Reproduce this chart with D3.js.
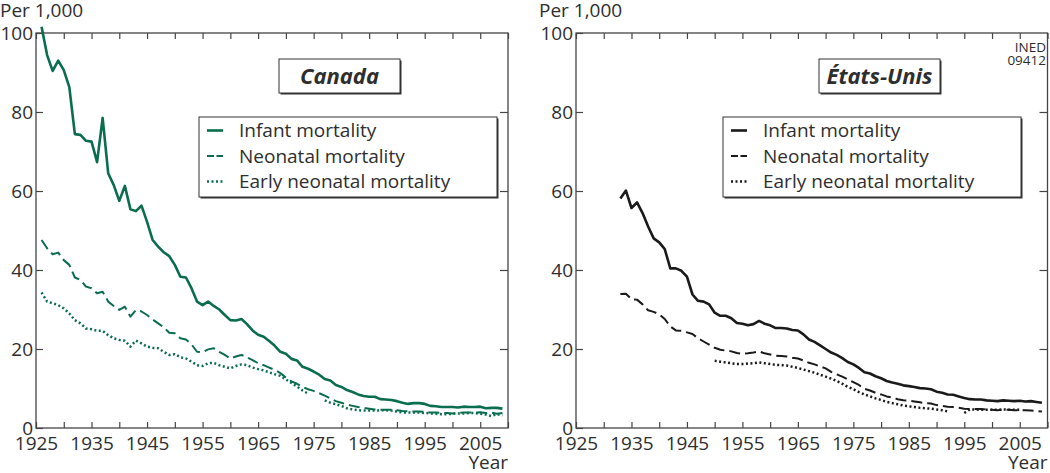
<!DOCTYPE html>
<html><head><meta charset="utf-8">
<script src="https://cdn.jsdelivr.net/npm/d3@7"></script>
<style>
body{margin:0;background:#fff;}
svg text{font-family:"Open Sans","Noto Sans",sans-serif;fill:#2e2e2e;}
</style></head><body>
<svg id="chart" width="1050" height="473"></svg>
<script>
// ---------- DATA ----------
const canadaFirstYear = 1926;
const canadaInfant = [101.6,94.4,90.4,93.0,90.6,86.3,74.4,74.2,72.7,72.5,
  67.3,78.5,64.5,61.5,57.5,61.3,55.4,54.9,56.3,52.2,
  47.6,45.9,44.5,43.5,41.3,38.3,38.1,35.4,32.0,31.1,
  32.0,30.9,30.0,28.6,27.3,27.2,27.6,26.3,24.7,23.6,
  23.1,22.0,20.8,19.3,18.8,17.5,17.1,15.5,15.0,14.3,
  13.5,12.4,12.0,10.9,10.4,9.6,9.1,8.5,8.1,7.9,
  7.9,7.3,7.2,7.1,6.8,6.4,6.1,6.3,6.3,6.1,
  5.6,5.5,5.3,5.3,5.3,5.2,5.4,5.3,5.3,5.4,
  5.0,5.1,5.1,4.9];
const canadaNeonatal = [47.6,45.5,44.0,44.4,42.5,41.3,38.1,37.5,35.8,35.4,
  34.1,34.5,32.0,30.9,29.9,30.7,28.2,29.9,29.5,28.6,
  27.5,26.5,25.5,24.1,24.0,22.7,22.4,21.2,19.3,19.2,
  19.9,20.2,19.3,18.5,17.6,18.1,18.5,17.9,17.2,16.4,
  15.9,15.3,14.7,13.9,12.8,11.8,11.2,10.4,9.8,9.4,
  8.8,8.2,7.5,6.8,6.4,5.9,5.6,5.3,5.1,4.9,
  4.7,4.6,4.6,4.6,4.5,4.3,4.2,4.2,4.2,4.1,
  3.9,3.9,3.8,3.8,3.7,3.8,3.9,3.9,3.9,4.0,
  3.8,3.9,3.6,3.8];
const canadaEarlyNeonatal = [34.3,32.0,31.6,31.1,30.3,29.0,27.3,26.5,25.2,25.0,
  24.6,24.6,23.5,22.7,22.3,22.1,20.6,22.1,21.4,20.6,
  20.3,20.2,19.3,18.5,18.7,17.9,17.6,16.8,15.9,15.7,
  16.4,16.5,15.9,15.5,15.1,15.7,16.1,15.9,15.3,14.9,
  14.6,14.1,13.6,13.2,12.3,11.4,10.5,9.5,8.7,null,
  null,7.0,6.4,6.0,5.6,5.0,4.7,4.5,4.4,4.4,
  4.4,4.5,4.5,4.4,4.2,3.9,3.9,3.9,3.9,3.8,
  3.7,3.6,3.5,3.5,3.6,3.7,3.7,3.8,3.8,3.6,
  3.4,3.0,3.5,3.2];

const usFirstYear = 1933;
const usInfant = [58.1,60.1,55.7,57.1,54.4,51.0,48.0,47.0,45.3,40.4,
  40.4,39.8,38.3,33.8,32.2,32.0,31.3,29.2,28.4,28.4,
  27.8,26.6,26.4,26.0,26.3,27.1,26.4,26.0,25.3,25.3,
  25.2,24.8,24.7,23.7,22.4,21.8,20.9,20.0,19.1,18.5,
  17.7,16.7,16.1,15.2,14.1,13.8,13.1,12.6,11.9,11.5,
  11.2,10.8,10.6,10.4,10.1,10.0,9.8,9.2,8.9,8.5,
  8.4,8.0,7.6,7.3,7.2,7.2,7.0,6.9,6.8,7.0,
  6.9,6.8,6.9,6.7,6.8,6.6,6.4];
const usNeonatal = [33.9,34.0,32.6,32.5,31.3,29.8,29.4,28.8,27.6,25.7,
  24.7,24.6,24.2,23.8,22.7,21.9,21.1,20.3,19.8,19.6,
  19.4,19.0,18.8,18.9,19.1,19.4,18.9,18.6,18.3,18.2,
  18.1,17.8,17.6,17.1,16.5,16.1,15.6,15.1,14.2,13.6,
  13.0,12.3,11.6,10.9,9.9,9.5,8.9,8.5,8.0,7.7,
  7.3,7.0,6.9,6.7,6.5,6.3,6.2,5.8,5.6,5.4,
  5.3,5.1,4.9,4.8,4.8,4.8,4.7,4.6,4.5,4.7,
  4.6,4.5,4.5,4.5,4.4,4.3,4.2];
const usEarlyNeonatal = [null,null,null,null,null,null,null,null,null,null,
  null,null,null,null,null,null,null,17.0,16.8,16.6,
  16.4,16.2,16.2,16.3,16.4,16.6,16.4,16.2,16.0,15.9,
  15.8,15.5,15.2,14.8,14.4,14.0,13.5,13.0,12.5,11.9,
  11.2,10.4,9.8,9.1,8.5,8.0,7.5,7.1,6.6,6.3,
  6.0,5.7,5.5,5.3,5.1,5.0,4.9,4.7,4.5,4.2,
  null,null,3.8,4.7,4.7,4.6,4.6,4.6,4.6,4.7,
  4.6,4.6,4.6,null,null,null,null];

const seriesNames = ["Infant mortality","Neonatal mortality","Early neonatal mortality"];
const panelTitles = ["Canada","États-Unis"];
const xTickYears = [1925,1930,1935,1940,1945,1950,1955,1960,1965,1970,1975,1980,1985,1990,1995,2000,2005,2010];
const xLabelYears = [1925,1935,1945,1955,1965,1975,1985,1995,2005];
const yTicks = [0,20,40,60,80,100];
const yAxisTitle = "Per 1,000";
const xAxisTitle = "Year";
const sourceNote = ["INED","09412"];

// ---------- LAYOUT / STYLE ----------
const svg = d3.select("#chart");
const frameColor = "#454545";
const fontSize = 19;
const styles = [
  {width:2.6, dash:null},
  {width:2.0, dash:"11,5"},
  {width:2.5, dash:"2,2.5"}
];
const panels = [
  {x0:36, x1:508, color:"#0a6e4e", first:canadaFirstYear,
   series:[canadaInfant,canadaNeonatal,canadaEarlyNeonatal],
   title:panelTitles[0], titleBox:[279,59,121,34], legendBox:[199,117,298,80], perX:0},
  {x0:576, x1:1047.5, color:"#1a1a1a", first:usFirstYear,
   series:[usInfant,usNeonatal,usEarlyNeonatal],
   title:panelTitles[1], titleBox:[819,59,121,34], legendBox:[723,117,298,80], perX:539}
];
const yTop = 33, yBottom = 428;

panels.forEach(p => {
  const x = d3.scaleLinear().domain([1925,2010]).range([p.x0,p.x1]);
  const y = d3.scaleLinear().domain([0,100]).range([yBottom,yTop]);
  const g = svg.append("g");

  const ax = g.append("g").attr("transform",`translate(0,${yBottom})`)
    .call(d3.axisBottom(x).tickValues(xTickYears).tickSize(-6).tickSizeOuter(0).tickPadding(9)
      .tickFormat(d => xLabelYears.includes(d) ? String(d) : ""));
  const at = g.append("g").attr("transform",`translate(0,${yTop})`)
    .call(d3.axisTop(x).tickValues(xTickYears).tickSize(-6).tickSizeOuter(0).tickFormat(""));
  const al = g.append("g").attr("transform",`translate(${p.x0},0)`)
    .call(d3.axisLeft(y).tickValues(yTicks).tickSize(-7).tickSizeOuter(0).tickPadding(3).tickFormat(d3.format("d")));
  const ar = g.append("g").attr("transform",`translate(${p.x1},0)`)
    .call(d3.axisRight(y).tickValues(yTicks.slice(1,5)).tickSize(-8).tickSizeOuter(0).tickFormat(""));
  [ax,at,al,ar].forEach(a => {
    a.select(".domain").remove();
    a.selectAll(".tick line").attr("stroke",frameColor).attr("stroke-width",1.2);
    a.selectAll(".tick text").attr("font-size",fontSize).attr("fill","#2e2e2e")
      .attr("font-family",'"Open Sans","Noto Sans",sans-serif');
  });
  al.selectAll(".tick text").attr("dy","0.34em");

  g.append("rect").attr("x",p.x0).attr("y",yTop).attr("width",p.x1-p.x0).attr("height",yBottom-yTop)
    .attr("fill","none").attr("stroke",frameColor).attr("stroke-width",1.3);

  p.series.forEach((vals,i) => {
    const data = vals.map((v,k) => ({year:p.first+k, v}));
    const line = d3.line().defined(d => d.v != null).x(d => x(d.year)).y(d => y(d.v));
    const path = g.append("path").datum(data).attr("d",line)
      .attr("fill","none").attr("stroke",p.color).attr("stroke-width",styles[i].width)
      .attr("stroke-linejoin","round");
    if (styles[i].dash) path.attr("stroke-dasharray",styles[i].dash);
  });

  const [tx,ty,tw,th] = p.titleBox;
  g.append("rect").attr("x",tx+1.5).attr("y",ty+1.5).attr("width",tw).attr("height",th).attr("fill","#333");
  g.append("rect").attr("x",tx).attr("y",ty).attr("width",tw).attr("height",th)
    .attr("fill","#fff").attr("stroke","#333").attr("stroke-width",1);
  g.append("text").attr("x",tx+tw/2).attr("y",ty+th/2).attr("dy","0.36em").attr("text-anchor","middle")
    .attr("font-size",22).attr("font-weight","bold").attr("font-style","italic").attr("fill","#1a1a1a")
    .text(p.title);

  const [lx,ly,lw,lh] = p.legendBox;
  g.append("rect").attr("x",lx+1.5).attr("y",ly+1.5).attr("width",lw).attr("height",lh).attr("fill","#333");
  g.append("rect").attr("x",lx).attr("y",ly).attr("width",lw).attr("height",lh)
    .attr("fill","#fff").attr("stroke","#333").attr("stroke-width",1);
  seriesNames.forEach((name,i) => {
    const cy = ly + 13.5 + i*25.5;
    const l = g.append("line").attr("x1",lx+8).attr("x2",lx+24).attr("y1",cy).attr("y2",cy)
      .attr("stroke",p.color).attr("stroke-width",styles[i].width);
    if (i===1) l.attr("stroke-dasharray","7,2.5");
    if (i===2) l.attr("stroke-dasharray",styles[i].dash);
    g.append("text").attr("x",lx+40).attr("y",cy).attr("dy","0.36em").attr("font-size",fontSize).text(name);
  });

  g.append("text").attr("x",p.perX).attr("y",17).attr("font-size",fontSize).text(yAxisTitle);
  g.append("text").attr("x",p.x1).attr("y",469).attr("text-anchor","end").attr("font-size",fontSize).text(xAxisTitle);
});

const note = svg.append("text").attr("x",1046).attr("y",52).attr("text-anchor","end")
  .attr("font-family",'"Liberation Sans Narrow","DejaVu Sans Condensed",sans-serif')
  .attr("font-size",13.5).attr("fill","#333");
sourceNote.forEach((t,i) => note.append("tspan").attr("x",1046).attr("dy",i===0?0:13).text(t));
</script>
</body></html>
